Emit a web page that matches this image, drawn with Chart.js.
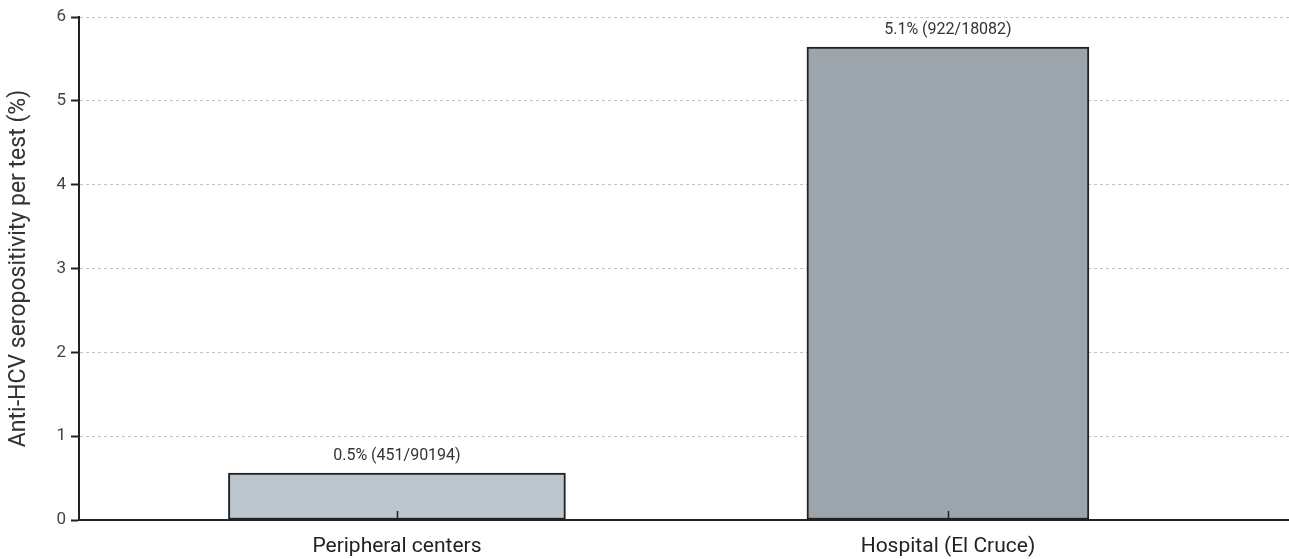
<!DOCTYPE html>
<html><head><meta charset="utf-8">
<script src="https://cdn.jsdelivr.net/npm/chart.js@4/dist/chart.umd.min.js"></script>
<style>html,body{margin:0;padding:0;background:#fff}#wrap{width:1289px;height:559px;position:relative}</style>
</head><body><div id="wrap"><canvas id="c"></canvas></div>
<script>
const categories = ['Peripheral centers', 'Hospital (El Cruce)'];
const positions = [1, 2];
const values = [0.56, 5.64];
const valueLabels = ['0.5% (451/90194)', '5.1% (922/18082)'];
const yTicks = [0, 1, 2, 3, 4, 5, 6];
const yTitle = 'Anti-HCV seropositivity per test (%)';

const barColors = ['#bcc6cc', '#9ba5ab'];
const barWidths = [337, 282];
const FONT = "'Roboto', 'Liberation Sans', sans-serif";

const datasets = categories.map((c, i) => ({
  label: c,
  data: [{x: positions[i], y: values[i]}],
  backgroundColor: barColors[i],
  borderColor: '#222',
  borderWidth: 2,
  borderSkipped: false,
  barThickness: barWidths[i],
  grouped: false
}));

const overlay = {
  id: 'overlay',
  afterDatasetsDraw(chart) {
    const ctx = chart.ctx;
    const xs = chart.scales.x, ys = chart.scales.y;
    ctx.save();
    ctx.strokeStyle = '#222';
    ctx.lineWidth = 1.5;
    positions.forEach(p => {
      const px = Math.round(xs.getPixelForValue(p)) + 0.5;
      ctx.beginPath();
      ctx.moveTo(px, ys.bottom);
      ctx.lineTo(px, ys.bottom - 9);
      ctx.stroke();
    });
    ctx.fillStyle = '#333';
    ctx.font = '16px ' + FONT;
    ctx.textAlign = 'center';
    ctx.textBaseline = 'bottom';
    chart.data.datasets.forEach((ds, i) => {
      const el = chart.getDatasetMeta(i).data[0];
      ctx.fillText(valueLabels[i], el.x, el.y - 9);
    });
    ctx.restore();
  }
};

new Chart(document.getElementById('c'), {
  type: 'bar',
  data: { datasets },
  plugins: [overlay],
  options: {
    responsive: true,
    maintainAspectRatio: false,
    animation: false,
    layout: { padding: { top: 17, right: 0, left: 0, bottom: 0 } },
    plugins: { legend: { display: false }, tooltip: { enabled: false } },
    scales: {
      x: {
        type: 'linear',
        offset: false,
        min: 0.423,
        max: 2.619,
        afterBuildTicks: s => { s.ticks = positions.map(v => ({ value: v })); },
        afterFit: s => { s.height = 39; },
        grid: { display: false },
        border: { display: true, color: '#222', width: 2 },
        ticks: {
          autoSkip: false,
          maxRotation: 0,
          padding: 6,
          color: '#222',
          font: { family: FONT, size: 21 },
          callback: v => categories[positions.indexOf(v)]
        }
      },
      y: {
        min: 0,
        max: 6,
        afterBuildTicks: s => { s.ticks = yTicks.map(v => ({ value: v })); },
        afterFit: s => { s.width = 79; },
        grid: {
          color: ctx => (ctx.tick && ctx.tick.value === 0) ? 'rgba(0,0,0,0)' : '#c4c4c4',
          lineWidth: 1,
          tickColor: '#222',
          tickWidth: 2,
          tickLength: 8
        },
        border: { display: true, color: '#222', width: 2, dash: [3, 3] },
        ticks: {
          padding: 5,
          color: '#444',
          font: { family: FONT, size: 17 }
        },
        title: {
          display: true,
          text: yTitle,
          color: '#333',
          font: { family: FONT, size: 23 },
          padding: { top: 5, bottom: 0 }
        }
      }
    }
  }
});
</script>
</body></html>
